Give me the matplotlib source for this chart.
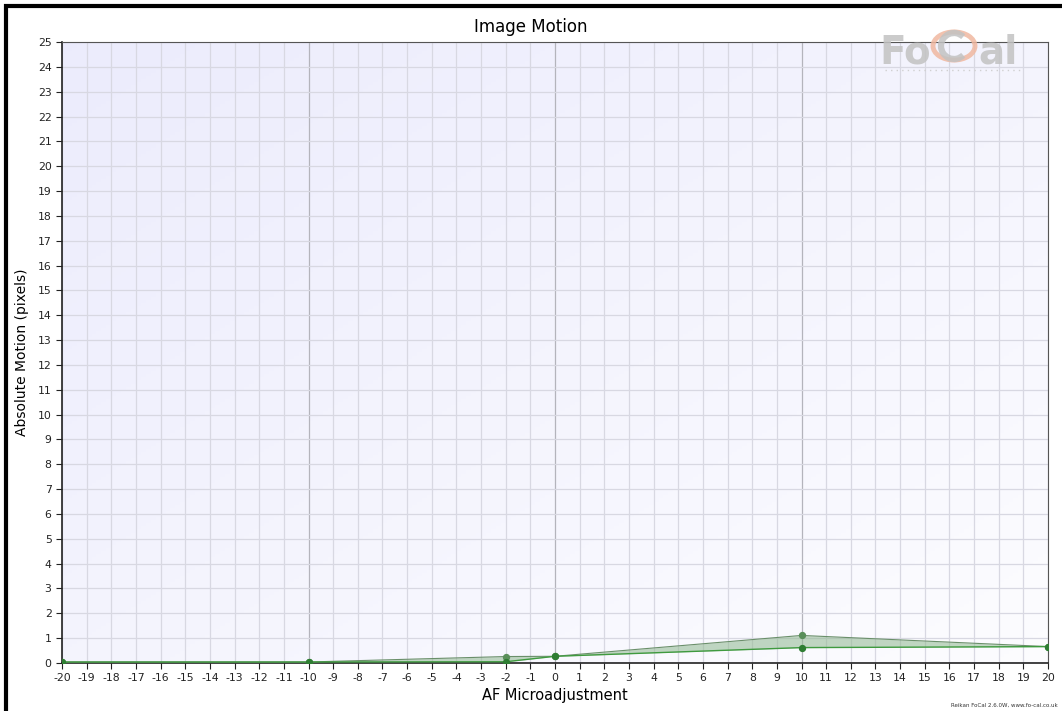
import numpy as np
import matplotlib
matplotlib.use("Agg")
import matplotlib.pyplot as plt
from matplotlib.patches import Rectangle, Circle, Arc
from matplotlib.lines import Line2D

# Data
x_pos = [-20, -10, -2, 0, 10, 20]
upper = [0.04, 0.04, 0.26, 0.27, 1.11, 0.66]
lower = [0.04, 0.04, 0.05, 0.27, 0.62, 0.66]
x_ticks = list(range(-20, 21))
y_ticks = list(range(0, 26))

W, H = 1062, 711
fig = plt.figure(figsize=(W / 100, H / 100), dpi=100)
fig.patch.set_facecolor("white")

L, R, T, B = 62, 1048, 42, 663
ax = fig.add_axes([L / W, 1 - B / H, (R - L) / W, (B - T) / H])

# gradient background: lavender top-left -> near white bottom-right
gx = np.linspace(0, 1, 200)
gy = np.linspace(0, 1, 200)  # row 0 = top
GX, GY = np.meshgrid(gx, gy)
t = np.clip((GX + GY) / 2, 0, 1)
c0 = np.array([0.925, 0.925, 0.99])
c1 = np.array([0.99, 0.99, 1.0])
img = c0[None, None, :] * (1 - t[..., None]) + c1[None, None, :] * t[..., None]
ax.imshow(img, extent=(-20, 20, 0, 25), origin="upper", aspect="auto", zorder=0)

ax.set_xlim(-20, 20)
ax.set_ylim(0, 25)

for xv in x_ticks:
    major = xv in (-10, 0, 10)
    ax.axvline(xv, color="#b4b4bc" if major else "#d8d8e2", lw=0.9, zorder=1)
for yv in y_ticks:
    ax.axhline(yv, color="#d8d8e2", lw=0.9, zorder=1)

ax.fill_between(x_pos, lower, upper, color="#8fb88f", alpha=0.55, zorder=2, lw=0)
ax.plot(x_pos, upper, color="#6a8f6a", lw=0.8, zorder=3)
ax.plot(x_pos, lower, color="#3f9a3f", lw=1.0, zorder=3)
ax.scatter(x_pos, upper, color="#5a8f5a", s=18, zorder=4)
ax.scatter(x_pos, lower, color="#2e7d32", s=18, zorder=4)

ax.set_xticks(x_ticks)
ax.set_yticks(y_ticks)
ax.set_xticklabels([str(v) for v in x_ticks])
ax.set_yticklabels([str(v) for v in y_ticks])
ax.tick_params(axis="both", labelsize=7.8, colors="#222222", length=4, width=0.8, direction="out")

for side in ("left", "bottom"):
    ax.spines[side].set_color("#222222")
    ax.spines[side].set_linewidth(1.2)
for side in ("top", "right"):
    ax.spines[side].set_color("#555555")
    ax.spines[side].set_linewidth(0.8)

ax.set_xlabel("AF Microadjustment", fontsize=10.5, labelpad=3)
ax.set_ylabel("Absolute Motion (pixels)", fontsize=10, labelpad=6)
fig.text(0.5, 1 - 27 / H, "Image Motion", ha="center", va="center", fontsize=12)

# Watermark
wm_col = "#c2c2c2"
fig.text(931 / W, 1 - 63 / H, "Fo", ha="right", va="baseline", fontsize=28,
         fontweight="bold", color=wm_col, alpha=0.85, zorder=10)
fig.text(978 / W, 1 - 63 / H, "al", ha="left", va="baseline", fontsize=28,
         fontweight="bold", color=wm_col, alpha=0.85, zorder=10)
cx, cy = 954 / W, 1 - 46 / H
ring = Circle((cx, cy), 21 / W, transform=fig.transFigure,
              fill=False, ec="#f0b8a0", lw=3.5, alpha=0.85, zorder=10)
fig.add_artist(ring)
carc = Arc((954, H - 46), 26, 26, theta1=45, theta2=315, transform=None,
           ec=wm_col, lw=4.5, alpha=0.85, zorder=10)
fig.add_artist(carc)
fig.add_artist(Line2D([885 / W, 1022 / W], [1 - 70 / H, 1 - 70 / H], transform=fig.transFigure,
                      color="#d0d0d0", lw=1, ls=(0, (1, 3)), zorder=10))

# Footer
fig.text(1058 / W, 1 - 705 / H, "Reikan FoCal 2.6.0W, www.fo-cal.co.uk", ha="right",
         va="center", fontsize=4, color="#333333")

# Figure border
border = Rectangle((6 / W, -0.02), 1.05, 1 - 6 / H + 0.02, transform=fig.transFigure,
                   fill=False, ec="black", lw=3)
fig.add_artist(border)

fig.savefig("out.png", dpi=100, facecolor="white")
